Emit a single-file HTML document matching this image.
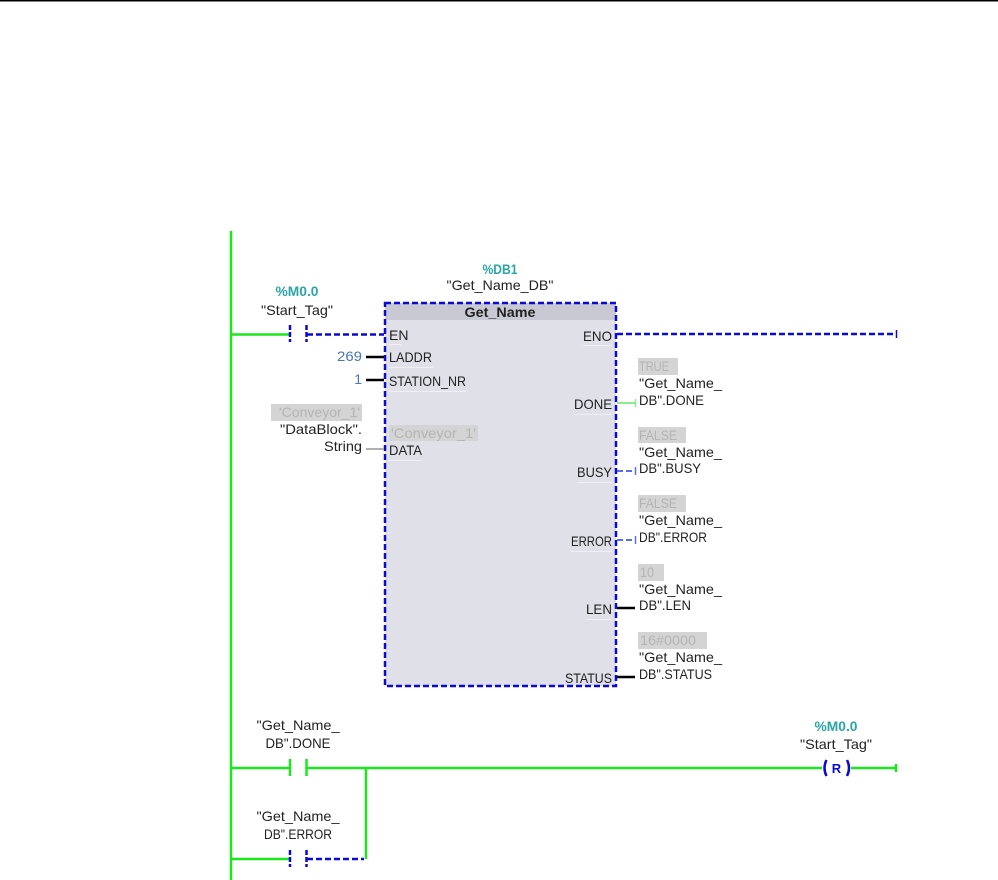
<!DOCTYPE html>
<html><head><meta charset="utf-8">
<style>
html,body{margin:0;padding:0;background:#fff;width:998px;height:880px;overflow:hidden}
svg{display:block}
text{font-family:"Liberation Sans",sans-serif;font-size:14px;fill:#222}
.c{text-anchor:middle}.r{text-anchor:end}
.t{fill:#2aa5a8;font-weight:bold}
.g{fill:#b4b4b4}
.b{fill:#4a74c4}
.gr{stroke:#1ee61e;stroke-width:2.5;fill:none}
.bl{stroke:#0a0ad2;stroke-width:2.5;fill:none;stroke-dasharray:6 3}
.bs{stroke:#0a0ad2;stroke-width:2.5;fill:none}
.k{stroke:#000;stroke-width:2.5;fill:none}
.hl{fill:#d4d4d4}
</style></head><body>
<svg width="998" height="880" viewBox="0 0 998 880" xmlns="http://www.w3.org/2000/svg">
<rect x="0" y="0" width="998" height="1.5" fill="#000"/>
<!-- rail -->
<line x1="231" y1="231" x2="231" y2="880" class="gr"/>
<!-- contact 1 -->
<line x1="231" y1="334.500" x2="289" y2="334.500" class="gr"/>
<line x1="290" y1="325" x2="290" y2="342" class="bl" style="stroke-dasharray:5 2"/>
<line x1="306.500" y1="325" x2="306.500" y2="342" class="bl" style="stroke-dasharray:5 2"/>
<line x1="307" y1="334.500" x2="384" y2="334.500" class="bl"/>
<text x="297" y="296" class="c t" textLength="43" lengthAdjust="spacingAndGlyphs">%M0.0</text>
<text x="297" y="315" class="c" textLength="72" lengthAdjust="spacingAndGlyphs">"Start_Tag"</text>
<!-- block -->
<rect x="385" y="303" width="231" height="383" fill="#dfe0e8"/>
<rect x="385" y="303" width="231" height="17" fill="#c9c9d3"/>
<rect x="385" y="303" width="231" height="383" class="bl"/>
<text x="500" y="274" class="c t" textLength="35" lengthAdjust="spacingAndGlyphs">%DB1</text>
<text x="500" y="290" class="c" textLength="107" lengthAdjust="spacingAndGlyphs">"Get_Name_DB"</text>
<text x="500" y="317" class="c" style="font-weight:bold" textLength="71" lengthAdjust="spacingAndGlyphs">Get_Name</text>
<!-- left pins -->
<text x="389" y="340">EN</text>
<rect x="389" y="344" width="12" height="1" fill="#f0f0f4"/>
<text x="389" y="362" textLength="43" lengthAdjust="spacingAndGlyphs">LADDR</text>
<rect x="389" y="367" width="44" height="1" fill="#f0f0f4"/>
<text x="389" y="386" textLength="77" lengthAdjust="spacingAndGlyphs">STATION_NR</text>
<rect x="389" y="391" width="77" height="1" fill="#f0f0f4"/>
<rect x="389" y="425" width="89" height="16" class="hl"/>
<text x="391" y="438" class="g" textLength="85" lengthAdjust="spacingAndGlyphs">'Conveyor_1'</text>
<text x="389" y="455" textLength="33" lengthAdjust="spacingAndGlyphs">DATA</text>
<rect x="389" y="460" width="33" height="1" fill="#f0f0f4"/>
<line x1="366" y1="357" x2="384" y2="357" class="k"/>
<line x1="366" y1="380" x2="384" y2="380" class="k"/>
<line x1="366" y1="449" x2="384" y2="449" stroke="#b0b0b0" stroke-width="2"/>
<text x="362" y="361" class="r b" textLength="25" lengthAdjust="spacingAndGlyphs">269</text>
<text x="362" y="384" class="r b">1</text>
<rect x="271" y="404" width="91" height="17" class="hl"/>
<text x="360" y="417" class="r g" textLength="81" lengthAdjust="spacingAndGlyphs">'Conveyor_1'</text>
<text x="362" y="434" class="r" textLength="82" lengthAdjust="spacingAndGlyphs">"DataBlock".</text>
<text x="362" y="451" class="r" textLength="38" lengthAdjust="spacingAndGlyphs">String</text>
<!-- right pins -->
<text x="612" y="341" class="r" textLength="29" lengthAdjust="spacingAndGlyphs">ENO</text>
<rect x="583" y="345" width="29" height="1" fill="#f0f0f4"/>
<text x="612" y="409" class="r" textLength="38" lengthAdjust="spacingAndGlyphs">DONE</text>
<rect x="574" y="414" width="38" height="1" fill="#f0f0f4"/>
<text x="612" y="477" class="r" textLength="35" lengthAdjust="spacingAndGlyphs">BUSY</text>
<rect x="577" y="482" width="35" height="1" fill="#f0f0f4"/>
<text x="612" y="546" class="r" textLength="41" lengthAdjust="spacingAndGlyphs">ERROR</text>
<rect x="571" y="551" width="41" height="1" fill="#f0f0f4"/>
<text x="612" y="614" class="r" textLength="26" lengthAdjust="spacingAndGlyphs">LEN</text>
<rect x="586" y="619" width="26" height="1" fill="#f0f0f4"/>
<text x="612" y="683" class="r" textLength="47" lengthAdjust="spacingAndGlyphs">STATUS</text>
<!-- right connectors -->
<line x1="617" y1="334" x2="896" y2="334" class="bl"/>
<line x1="896.500" y1="330" x2="896.500" y2="338" stroke="#0a0ad2" stroke-width="1.500"/>
<line x1="617" y1="403" x2="635" y2="403" stroke="#8ceb8c" stroke-width="2"/>
<line x1="635.500" y1="399" x2="635.500" y2="407" stroke="#8ceb8c" stroke-width="1.500"/>
<line x1="617" y1="471" x2="635" y2="471" stroke="#5a6ee6" stroke-width="2" stroke-dasharray="6 3"/>
<line x1="635.500" y1="467" x2="635.500" y2="475" stroke="#5a6ee6" stroke-width="1.500"/>
<line x1="617" y1="540" x2="635" y2="540" stroke="#5a6ee6" stroke-width="2" stroke-dasharray="6 3"/>
<line x1="635.500" y1="536" x2="635.500" y2="544" stroke="#5a6ee6" stroke-width="1.500"/>
<line x1="617" y1="608" x2="635" y2="608" class="k"/>
<line x1="617" y1="677" x2="635" y2="677" class="k"/>
<!-- outputs -->
<rect x="638" y="358" width="40" height="17" class="hl"/>
<text x="639" y="371" class="g" textLength="30" lengthAdjust="spacingAndGlyphs">TRUE</text>
<text x="639" y="388" textLength="83" lengthAdjust="spacingAndGlyphs">"Get_Name_</text>
<text x="639" y="405" textLength="65" lengthAdjust="spacingAndGlyphs">DB".DONE</text>
<rect x="638" y="427" width="48" height="16" class="hl"/>
<text x="639" y="440" class="g" textLength="38" lengthAdjust="spacingAndGlyphs">FALSE</text>
<text x="639" y="457" textLength="83" lengthAdjust="spacingAndGlyphs">"Get_Name_</text>
<text x="639" y="473" textLength="62" lengthAdjust="spacingAndGlyphs">DB".BUSY</text>
<rect x="638" y="495" width="48" height="17" class="hl"/>
<text x="639" y="508" class="g" textLength="38" lengthAdjust="spacingAndGlyphs">FALSE</text>
<text x="639" y="525" textLength="83" lengthAdjust="spacingAndGlyphs">"Get_Name_</text>
<text x="639" y="542" textLength="68" lengthAdjust="spacingAndGlyphs">DB".ERROR</text>
<rect x="638" y="564" width="26" height="17" class="hl"/>
<text x="640" y="577" class="g" textLength="14" lengthAdjust="spacingAndGlyphs">10</text>
<text x="639" y="594" textLength="83" lengthAdjust="spacingAndGlyphs">"Get_Name_</text>
<text x="639" y="610" textLength="52" lengthAdjust="spacingAndGlyphs">DB".LEN</text>
<rect x="638" y="632" width="69" height="17" class="hl"/>
<text x="640" y="645" class="g" textLength="56" lengthAdjust="spacingAndGlyphs">16#0000</text>
<text x="639" y="662" textLength="83" lengthAdjust="spacingAndGlyphs">"Get_Name_</text>
<text x="639" y="679" textLength="73" lengthAdjust="spacingAndGlyphs">DB".STATUS</text>
<!-- rung 2 -->
<line x1="231" y1="768" x2="289" y2="768" class="gr"/>
<line x1="290" y1="759" x2="290" y2="776" class="gr"/>
<line x1="306.500" y1="759" x2="306.500" y2="776" class="gr"/>
<line x1="307" y1="768" x2="822" y2="768" class="gr"/>
<line x1="366" y1="768" x2="366" y2="859" class="gr"/>
<text x="298" y="730" class="c" textLength="83" lengthAdjust="spacingAndGlyphs">"Get_Name_</text>
<text x="298" y="748" class="c" textLength="65" lengthAdjust="spacingAndGlyphs">DB".DONE</text>
<!-- rung 3 -->
<line x1="231" y1="859" x2="289" y2="859" class="gr"/>
<line x1="290" y1="850" x2="290" y2="867" class="bl" style="stroke-dasharray:5 2"/>
<line x1="306.500" y1="850" x2="306.500" y2="867" class="bl" style="stroke-dasharray:5 2"/>
<line x1="307" y1="859" x2="364" y2="859" class="bl"/>
<text x="298" y="821" class="c" textLength="83" lengthAdjust="spacingAndGlyphs">"Get_Name_</text>
<text x="298" y="839" class="c" textLength="68" lengthAdjust="spacingAndGlyphs">DB".ERROR</text>
<!-- coil -->
<text x="836" y="731" class="c t" textLength="43" lengthAdjust="spacingAndGlyphs">%M0.0</text>
<text x="836" y="749" class="c" textLength="72" lengthAdjust="spacingAndGlyphs">"Start_Tag"</text>
<path d="M826.500 760 Q822.500 768 826.500 776" class="bs"/>
<path d="M847 760 Q851 768 847 776" class="bs"/>
<text x="836.500" y="773" class="c" style="font-size:13px;font-weight:bold;fill:#0a0ad2">R</text>
<line x1="851" y1="768" x2="896" y2="768" class="gr"/>
<line x1="896" y1="764" x2="896" y2="772" class="gr"/>
</svg>
</body></html>
